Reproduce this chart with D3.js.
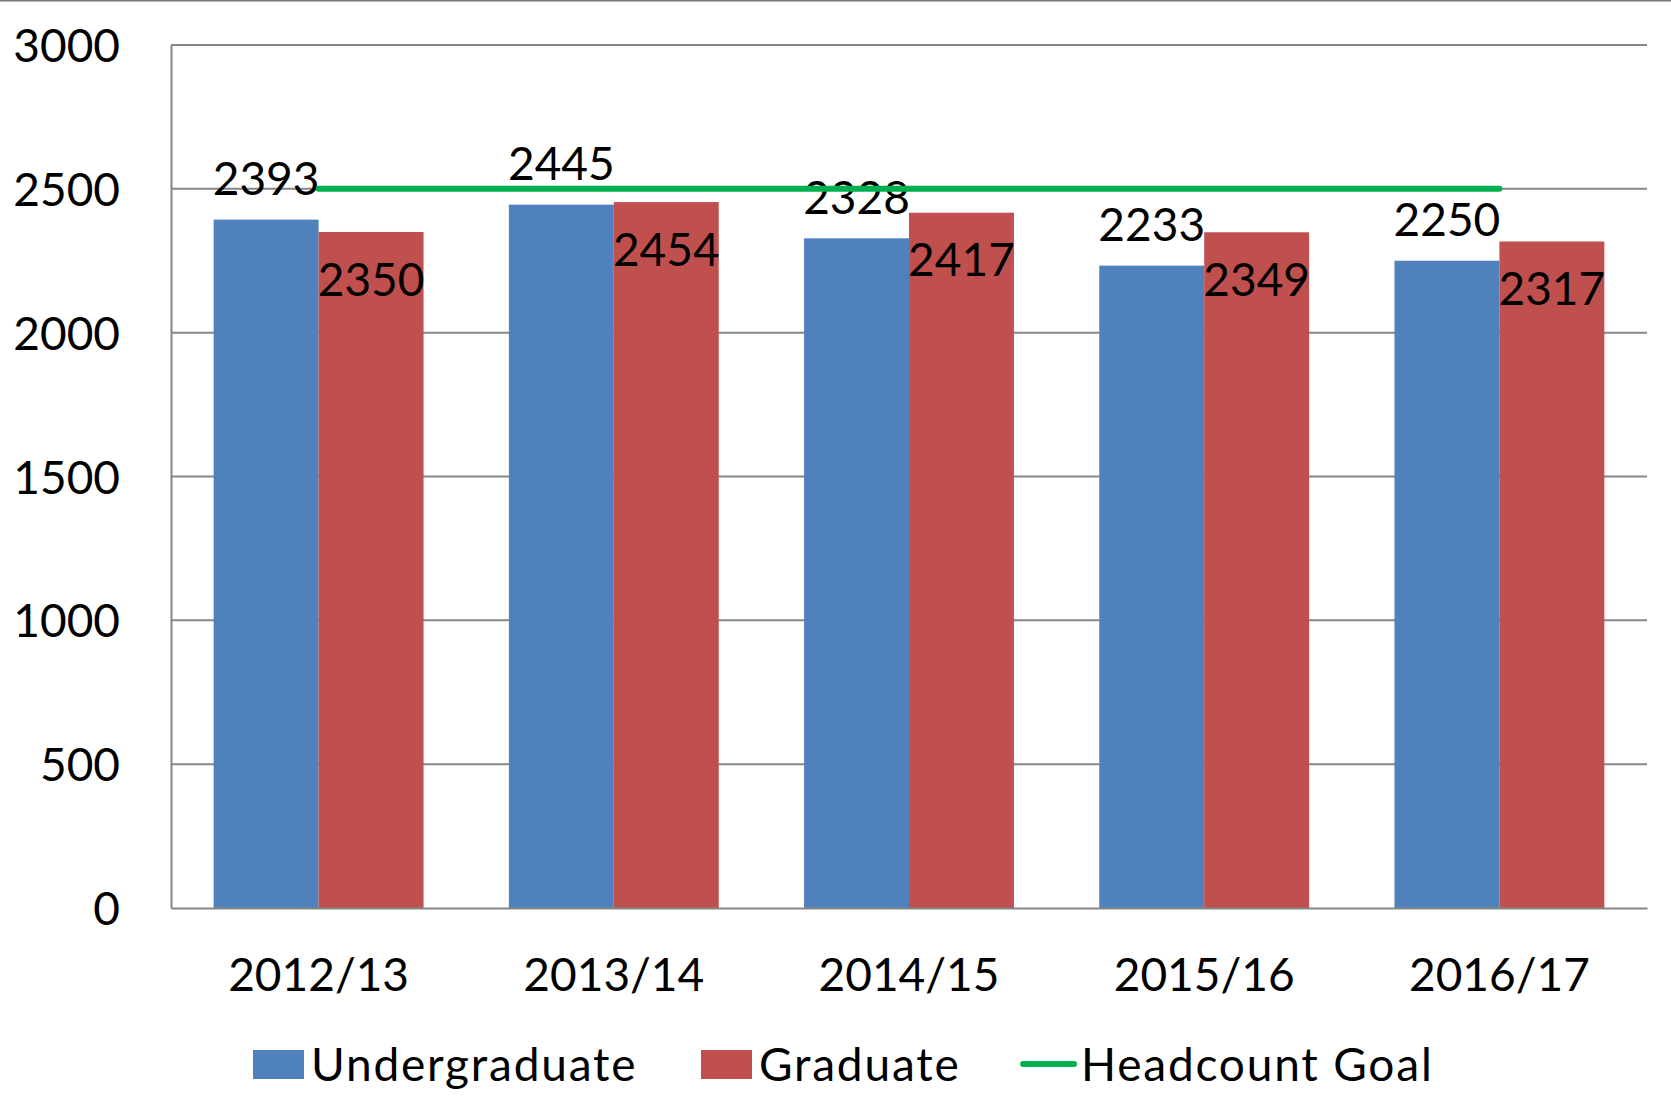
<!DOCTYPE html>
<html>
<head>
<meta charset="utf-8">
<script src="https://cdn.jsdelivr.net/npm/d3@7"></script>
<style>
  body { margin: 0; background: #fff; }
  text { font-family: Lato, "Open Sans", sans-serif; fill: #000; }
</style>
</head>
<body>
<script>
const years = ['2012/13', '2013/14', '2014/15', '2015/16', '2016/17'];
const undergraduate = [2393, 2445, 2328, 2233, 2250];
const graduate = [2350, 2454, 2417, 2349, 2317];
const headcountGoal = [2500, 2500, 2500, 2500, 2500];
const yTicks = [0, 500, 1000, 1500, 2000, 2500, 3000];

const W = 1671;
const H = 1117;
const margin = { top: 45, right: 24, bottom: 209, left: 171 };
const width = W - margin.left - margin.right;
const height = H - margin.top - margin.bottom;

const colors = { Undergraduate: '#4f81bd', Graduate: '#c0504d', goal: '#00b050' };
const grid = '#868686';

const svg = d3.select('body')
  .append('svg')
  .attr('width', W)
  .attr('height', H);

// outer frame line along the top
svg.append('line')
  .attr('x1', 0).attr('x2', W)
  .attr('y1', 0.5).attr('y2', 0.5)
  .attr('stroke', '#777')
  .attr('stroke-width', 2);

const g = svg.append('g')
  .attr('transform', `translate(${margin.left},${margin.top})`);

const x = d3.scaleBand()
  .domain(years)
  .range([0, width])
  .paddingInner(0.289)
  .paddingOuter(0.1445);

const xSub = d3.scaleBand()
  .domain(['Undergraduate', 'Graduate'])
  .range([0, x.bandwidth()]);

const y = d3.scaleLinear()
  .domain([0, 3000])
  .range([height, 0]);

// gridlines
g.append('g')
  .selectAll('line')
  .data(yTicks.filter(d => d > 0))
  .join('line')
  .attr('x1', 0)
  .attr('x2', width)
  .attr('y1', d => y(d))
  .attr('y2', d => y(d))
  .attr('stroke', grid)
  .attr('stroke-width', 2);

// y axis
const yAxis = g.append('g')
  .call(d3.axisLeft(y).tickValues(yTicks).tickFormat(d3.format('d')).tickSize(0).tickPadding(51));
yAxis.select('.domain').attr('stroke', grid).attr('stroke-width', 2);
yAxis.selectAll('text')
  .attr('font-size', 46)
  .attr('dy', '0.36em')
  .style('font-family', 'Lato, sans-serif');

const series = [
  { key: 'Undergraduate', values: undergraduate },
  { key: 'Graduate', values: graduate }
];

const groups = g.append('g')
  .selectAll('g')
  .data(series)
  .join('g')
  .attr('fill', d => colors[d.key]);

groups.selectAll('rect')
  .data(d => d.values.map((v, i) => ({ key: d.key, year: years[i], value: v })))
  .join('rect')
  .attr('x', d => x(d.year) + xSub(d.key))
  .attr('y', d => y(d.value))
  .attr('width', xSub.bandwidth())
  .attr('height', d => height - y(d.value));

// x axis
const xAxis = g.append('g')
  .attr('transform', `translate(0,${height})`)
  .call(d3.axisBottom(x).tickSize(0).tickPadding(50));
xAxis.select('.domain').attr('stroke', grid).attr('stroke-width', 2);
xAxis.selectAll('text')
  .attr('font-size', 46)
  .style('font-family', 'Lato, sans-serif');

// headcount goal line
const line = d3.line()
  .x((d, i) => x(years[i]) + x.bandwidth() / 2)
  .y(d => y(d));

g.append('path')
  .datum(headcountGoal)
  .attr('d', line)
  .attr('fill', 'none')
  .attr('stroke', colors.goal)
  .attr('stroke-width', 6)
  .attr('stroke-linecap', 'round');

// data labels
groups.selectAll('text.lbl')
  .data(d => d.values.map((v, i) => ({ key: d.key, year: years[i], value: v })))
  .join('text')
  .attr('class', 'lbl')
  .attr('x', d => x(d.year) + xSub(d.key) + xSub.bandwidth() / 2)
  .attr('y', d => y(d.value) + (d.key === 'Undergraduate' ? -41 : 47))
  .attr('dy', '0.36em')
  .attr('text-anchor', 'middle')
  .attr('font-size', 46)
  .text(d => d.value);

// legend
const legendItems = [
  { label: 'Undergraduate', type: 'rect', color: colors.Undergraduate, x: 253 },
  { label: 'Graduate', type: 'rect', color: colors.Graduate, x: 701 },
  { label: 'Headcount Goal', type: 'line', color: colors.goal, x: 1020 }
];
const legendY = 1064;
const legend = svg.append('g')
  .selectAll('g')
  .data(legendItems)
  .join('g')
  .attr('transform', d => `translate(${d.x},${legendY})`);

legend.filter(d => d.type === 'rect')
  .append('rect')
  .attr('x', 0)
  .attr('y', -14)
  .attr('width', 51)
  .attr('height', 29)
  .attr('fill', d => d.color);

legend.filter(d => d.type === 'line')
  .append('line')
  .attr('x1', 3).attr('x2', 54)
  .attr('y1', 0).attr('y2', 0)
  .attr('stroke', d => d.color)
  .attr('stroke-width', 6)
  .attr('stroke-linecap', 'round');

legend.append('text')
  .attr('x', d => d.type === 'rect' ? 58 : 61)
  .attr('y', 0)
  .attr('dy', '0.36em')
  .attr('font-size', 46)
  .attr('letter-spacing', 1.8)
  .text(d => d.label);
</script>
</body>
</html>
